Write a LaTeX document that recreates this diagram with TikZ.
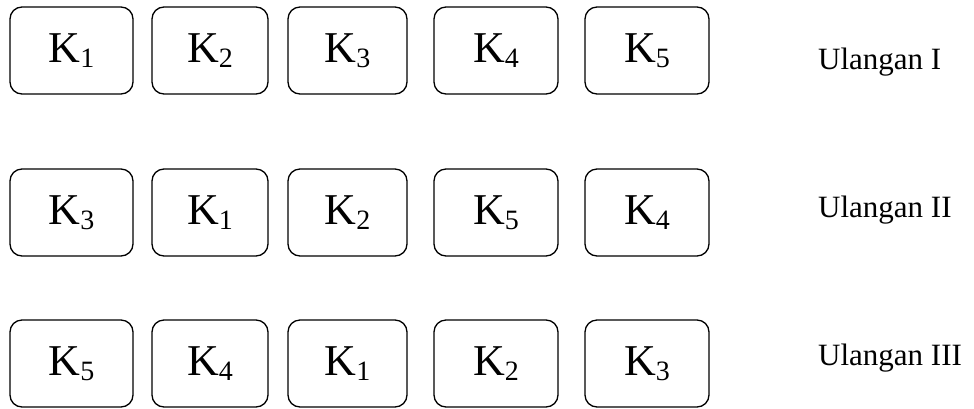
\documentclass[tikz,border=0pt]{standalone}
\usepackage{fontspec}
\setmainfont{Liberation Serif}
\usepackage{tikz}
\usetikzlibrary{positioning}

\newcommand{\kel}[1]{K\raisebox{-5pt}{\fontsize{28}{28}\selectfont #1}}

\begin{document}
\begin{tikzpicture}[x=1pt, y=-1pt,
  petak/.style={draw, rounded corners=12pt, line width=1.3pt, inner sep=0pt, minimum height=87pt, font=\fontsize{44}{44}\selectfont},
  kol1/.style={petak, minimum width=123pt},
  kol2/.style={petak, minimum width=116pt},
  kol3/.style={petak, minimum width=119pt},
  kol4/.style={petak, minimum width=124pt},
  kol5/.style={petak, minimum width=124pt},
  ulangan/.style={anchor=base west, inner sep=0pt, font=\fontsize{31}{31}\selectfont}]
\useasboundingbox (0,0) rectangle (974,408);

% Ulangan I
\node (a1) [kol1] at (71.5,50.5) {\kel{1}};
\node (a2) [kol2] at (210,50.5) {\kel{2}};
\node (a3) [kol3] at (347.5,50.5) {\kel{3}};
\node (a4) [kol4] at (496,50.5) {\kel{4}};
\node (a5) [kol5] at (647,50.5) {\kel{5}};
\node (u1) [ulangan] at (818,69) {Ulangan I};

% Ulangan II
\node (b1) [kol1] at (71.5,212.5) {\kel{3}};
\node (b2) [kol2] at (210,212.5) {\kel{1}};
\node (b3) [kol3] at (347.5,212.5) {\kel{2}};
\node (b4) [kol4] at (496,212.5) {\kel{5}};
\node (b5) [kol5] at (647,212.5) {\kel{4}};
\node (u2) [ulangan] at (818,217) {Ulangan II};

% Ulangan III
\node (c1) [kol1] at (71.5,363.5) {\kel{5}};
\node (c2) [kol2] at (210,363.5) {\kel{4}};
\node (c3) [kol3] at (347.5,363.5) {\kel{1}};
\node (c4) [kol4] at (496,363.5) {\kel{2}};
\node (c5) [kol5] at (647,363.5) {\kel{3}};
\node (u3) [ulangan] at (818,365) {Ulangan III};
\end{tikzpicture}
\end{document}
